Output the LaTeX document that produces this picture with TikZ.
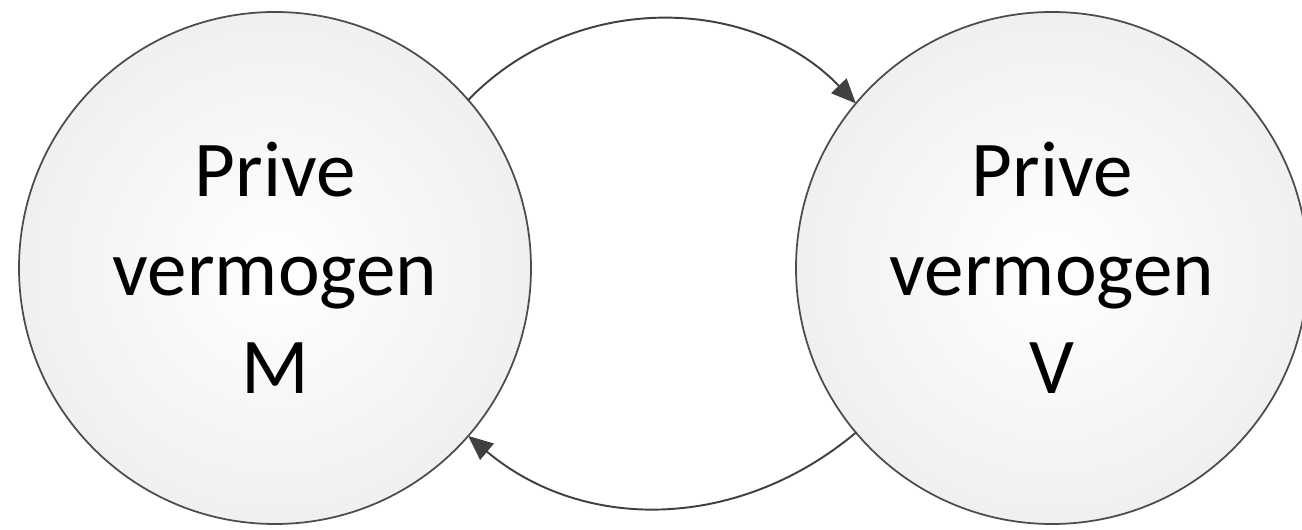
\documentclass[tikz,border=0pt]{standalone}
\usepackage{fontspec}
\setmainfont{Carlito}
\usetikzlibrary{arrows.meta}
\begin{document}
\begin{tikzpicture}[line join=round,line cap=round,>={Triangle[length=14pt,width=12pt]},
	pot/.style={circle,draw=black!70,line width=1pt,inner sep=0pt,outer sep=0pt,minimum size=10.24cm,
		shading=radial,inner color=white,outer color=black!6,align=center,
		font=\fontsize{45}{56}\selectfont},
	flow/.style={->,draw=black!75,line width=1.1pt}]
	\useasboundingbox (0,0) rectangle (26.04,10.6);
	\path 
	(5.5,5.24) coordinate (cM)
	(21.04,5.24) coordinate (cV)
	;
	\node[pot] (M) at (cM) {Prive\\vermogen\\M};
	\node[pot] (V) at (cV) {Prive\\vermogen\\V};
	\draw[flow] (M.41) to[out=46,in=134] (V.140);
	\draw[flow] (V.220) to[out=220,in=320] (M.319);
\end{tikzpicture}
\end{document}
